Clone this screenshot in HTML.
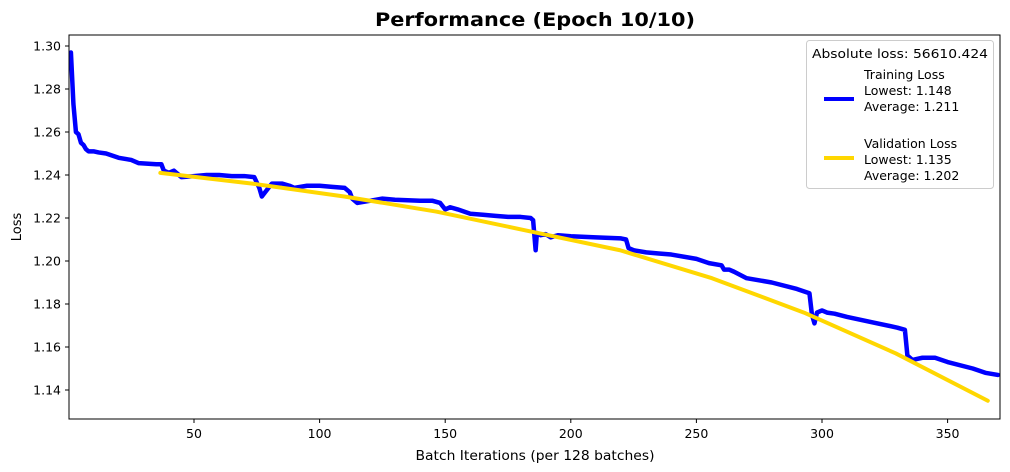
<!DOCTYPE html>
<html><head><meta charset="utf-8"><style>body{margin:0;background:#fff}svg{display:block;font-family:"DejaVu Sans","Liberation Sans",sans-serif}</style></head>
<body>
<svg id="chart" width="1010" height="472">
<rect width="1010" height="472" fill="#fff"/>
<text x="535" y="26" text-anchor="middle" font-size="19" font-weight="bold" textLength="320" lengthAdjust="spacingAndGlyphs">Performance (Epoch 10/10)</text>
<g id="grid"></g>
<g id="series"></g>
<rect x="69" y="35" width="931" height="384" fill="none" stroke="#000" stroke-width="1"/>
<text x="535" y="460" text-anchor="middle" font-size="13" textLength="239" lengthAdjust="spacingAndGlyphs">Batch Iterations (per 128 batches)</text>
<text x="21" y="227" text-anchor="middle" font-size="13" transform="rotate(-90 21 227)">Loss</text>
<g>
<rect x="806.5" y="40.5" width="187" height="148" rx="3" fill="#fff" fill-opacity="0.8" stroke="#ccc"/>
<text x="812" y="58" font-size="12.5" textLength="176" lengthAdjust="spacingAndGlyphs">Absolute loss: 56610.424</text>
<line x1="824" y1="99" x2="854" y2="99" stroke="#0000ff" stroke-width="4"/>
<text font-size="12.5"><tspan x="864" y="79">Training Loss</tspan><tspan x="864" y="95">Lowest: 1.148</tspan><tspan x="864" y="111">Average: 1.211</tspan></text>
<line x1="824" y1="158" x2="854" y2="158" stroke="#ffd700" stroke-width="4"/>
<text font-size="12.5"><tspan x="864" y="148">Validation Loss</tspan><tspan x="864" y="164">Lowest: 1.135</tspan><tspan x="864" y="180">Average: 1.202</tspan></text>
</g>
</svg>
<script>
const trainX=[1,2,3,4,5,6,7,8,10,12,15,20,25,28,35,37,38,40,42,44,45,50,55,60,65,70,74,76,77,79,81,85,88,90,95,100,105,110,112,113,115,120,125,130,140,145,148,150,152,155,160,165,170,175,180,184,185,186,186.5,188,190,192,195,200,210,220,222,223,225,230,235,240,250,255,260,261,263,265,270,280,290,295,296,297,298,300,302,305,310,320,330,333,334,336,340,345,350,360,365,370];
const trainY=[1.297,1.273,1.260,1.259,1.255,1.254,1.252,1.251,1.251,1.2505,1.250,1.248,1.247,1.2455,1.245,1.245,1.242,1.241,1.242,1.240,1.239,1.2395,1.240,1.240,1.2395,1.2395,1.239,1.234,1.230,1.233,1.236,1.236,1.235,1.234,1.235,1.235,1.2345,1.234,1.232,1.229,1.227,1.228,1.229,1.2285,1.228,1.228,1.227,1.224,1.225,1.224,1.222,1.2215,1.221,1.2205,1.2205,1.220,1.219,1.205,1.213,1.212,1.2125,1.211,1.212,1.2115,1.211,1.2105,1.210,1.206,1.205,1.204,1.2035,1.203,1.201,1.199,1.198,1.196,1.196,1.195,1.192,1.190,1.187,1.185,1.175,1.171,1.176,1.177,1.176,1.1755,1.174,1.1715,1.169,1.168,1.156,1.154,1.155,1.155,1.153,1.150,1.148,1.147];
const valX=[36.6,73.2,109.8,146.4,183,219.6,256.2,292.8,329.4,366];
const valY=[1.241,1.236,1.230,1.223,1.214,1.205,1.192,1.176,1.157,1.135];
const xTicks=[50,100,150,200,250,300,350];
const yTicks=[1.14,1.16,1.18,1.20,1.22,1.24,1.26,1.28,1.30];
const NS="http://www.w3.org/2000/svg";
const sx=v=>68.4+v*2.512;
const sy=v=>46+(1.30-v)/0.02*43;
const g=document.getElementById('grid'),s=document.getElementById('series');
function mk(tag,attrs,parent){const e=document.createElementNS(NS,tag);for(const k in attrs)e.setAttribute(k,attrs[k]);parent.appendChild(e);return e;}
xTicks.forEach(t=>{
 const l=mk('line',{x1:sx(t),x2:sx(t),y1:419,y2:423,stroke:'#000'},g);
 
 
 const tx=mk('text',{x:sx(t),y:438,'text-anchor':'middle','font-size':12.5},g);tx.textContent=t;
 
 
});
yTicks.forEach(t=>{
 const l=mk('line',{x1:65,x2:69,y1:sy(t),y2:sy(t),stroke:'#000'},g);
 
 
 const tx=mk('text',{x:61,y:sy(t)+4.5,'text-anchor':'end','font-size':12.5},g);tx.textContent=t.toFixed(2);
 
 
});
const tp=mk('polyline',{points:trainX.map((x,i)=>sx(x)+','+sy(trainY[i])).join(' '),fill:'none',stroke:'#0000ff','stroke-width':4.5,'stroke-linejoin':'round','stroke-linecap':'round'},s);


const vp=mk('polyline',{points:valX.map((x,i)=>sx(x)+','+sy(valY[i])).join(' '),fill:'none',stroke:'#ffd700','stroke-width':4,'stroke-linejoin':'round','stroke-linecap':'round'},s);


</script>
</body></html>
